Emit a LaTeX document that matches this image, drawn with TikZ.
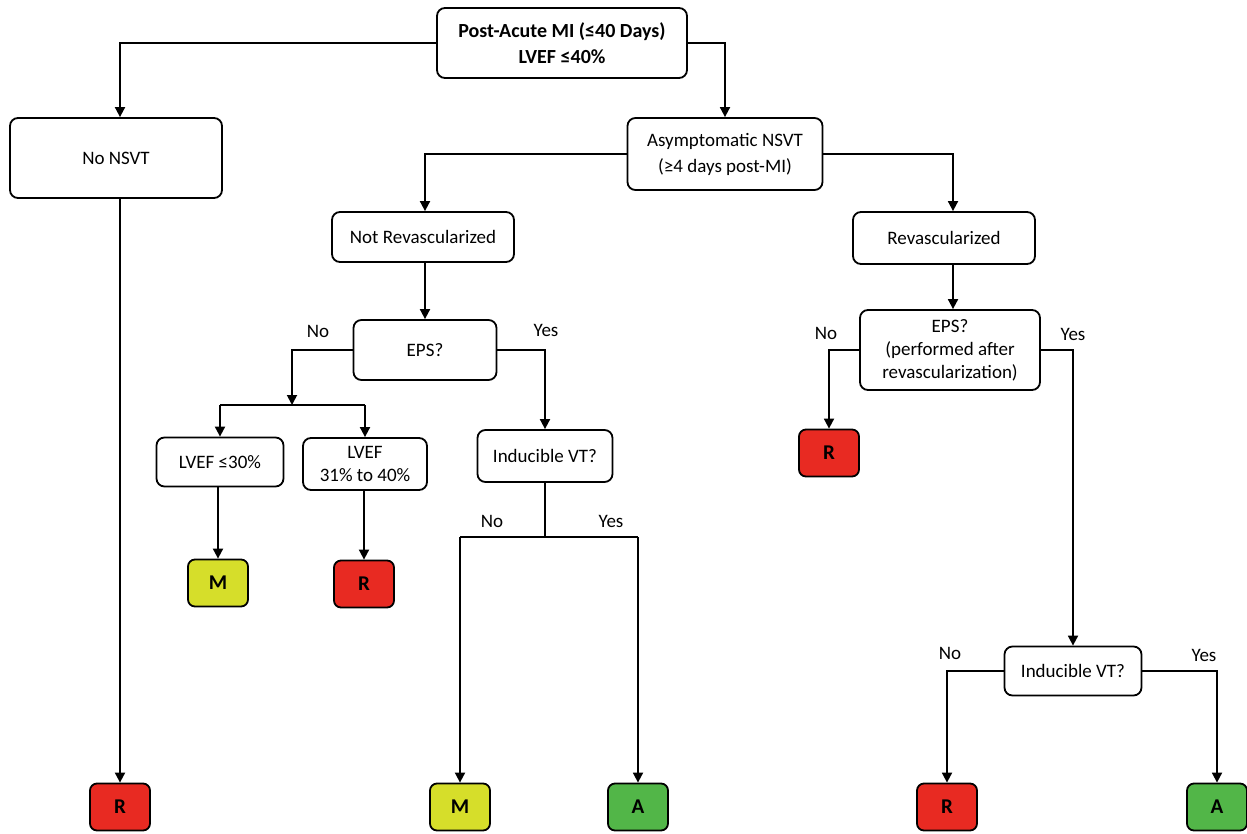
\documentclass[tikz,border=0pt]{standalone}
\usepackage{fontspec}
\setmainfont{Carlito}
\usetikzlibrary{arrows.meta}
\definecolor{cR}{RGB}{232,42,34}
\definecolor{cM}{RGB}{214,222,42}
\definecolor{cA}{RGB}{82,182,72}
\tikzset{
  box/.style={draw, line width=1.8pt, rounded corners=8pt, align=center, font=\fontsize{19}{23}\selectfont, inner sep=2pt, fill=white},
  res/.style={draw, line width=1.8pt, rounded corners=7pt, minimum width=60pt, minimum height=47pt, font=\fontsize{21}{24}\selectfont\bfseries},
  conn/.style={line width=1.8pt, -{Triangle[length=10pt,width=10pt]}},
  plain/.style={line width=1.8pt},
  lab/.style={font=\fontsize{19}{22}\selectfont}
}
\begin{document}
\begin{tikzpicture}[x=1pt,y=-1pt]
\useasboundingbox (0,0) rectangle (1247,833);
% nodes
\node[box, minimum width=250pt, minimum height=70pt, font=\fontsize{20}{26}\selectfont\bfseries] (top) at (562,43) {Post-Acute MI (≤40 Days)\\LVEF ≤40\%};
\node[box, minimum width=212pt, minimum height=80pt] (nonsvt) at (116,158) {No NSVT};
\node[box, minimum width=195pt, minimum height=72pt, font=\fontsize{19}{26}\selectfont] (asym) at (725,154) {Asymptomatic NSVT\\(≥4 days post-MI)};
\node[box, minimum width=182pt, minimum height=50pt] (notrev) at (423,237) {Not Revascularized};
\node[box, minimum width=182pt, minimum height=52pt] (rev) at (944,238) {Revascularized};
\node[box, minimum width=143pt, minimum height=60pt] (epsl) at (425,350) {EPS?};
\node[box, minimum width=180pt, minimum height=80pt, font=\fontsize{19}{23}\selectfont] (epsr) at (950,350) {EPS?\\(performed after\\revascularization)};
\node[box, minimum width=127pt, minimum height=49pt] (lv30) at (220,462) {LVEF ≤30\%};
\node[box, minimum width=124pt, minimum height=52pt, font=\fontsize{19}{23}\selectfont] (lv31) at (365,464) {LVEF\\31\% to 40\%};
\node[box, minimum width=135pt, minimum height=52pt] (ivtl) at (545,456) {Inducible VT?};
\node[box, minimum width=137pt, minimum height=49pt] (ivtr) at (1073,671) {Inducible VT?};
\node[res, fill=cR] (rmid) at (829,453) {R};
\node[res, fill=cM] (m1) at (218,583) {M};
\node[res, fill=cR] (r1) at (364,584) {R};
\node[res, fill=cR] (rb1) at (120,807) {R};
\node[res, fill=cM] (mb) at (460,807) {M};
\node[res, fill=cA] (ab1) at (638,807) {A};
\node[res, fill=cR] (rb2) at (947,807) {R};
\node[res, fill=cA] (ab2) at (1217,807) {A};
% helper coordinates
\coordinate (split) at (292,405);
\coordinate (splitL) at (220,405);
\coordinate (splitR) at (365,405);
\coordinate (ivsplit) at (545,537);
\coordinate (ivL) at (460,537);
\coordinate (ivR) at (638,537);
% connectors
\draw[conn] (top.west) -| (nonsvt.north -| rb1);
\draw[conn] (top.east) -| (asym.north);
\draw[conn] (nonsvt.south -| rb1) -- (rb1.north);
\draw[conn] (asym.west) -| (notrev.north -| epsl);
\draw[conn] (asym.east) -| (rev.north -| 953,0);
\draw[conn] (notrev.south -| epsl) -- (epsl.north);
\draw[conn] (epsl.west) -| (split);
\draw[plain] (splitL) -- (splitR);
\draw[conn] (splitL) -- (lv30.north);
\draw[conn] (splitR) -- (lv31.north);
\draw[conn] (epsl.east) -| (ivtl.north);
\draw[conn] (lv30.south -| m1) -- (m1.north);
\draw[conn] (lv31.south -| r1) -- (r1.north);
\draw[plain] (ivtl.south) -- (ivsplit);
\draw[plain] (ivL) -- (ivR);
\draw[conn] (ivL) -- (mb.north);
\draw[conn] (ivR) -- (ab1.north);
\draw[conn] (rev.south -| 953,0) -- (epsr.north -| 953,0);
\draw[conn] (epsr.west) -| (rmid.north);
\draw[conn] (epsr.east) -| (ivtr.north);
\draw[conn] (ivtr.west) -| (rb2.north);
\draw[conn] (ivtr.east) -| (ab2.north);
% labels
\node[lab] (l1) at (318,331) {No};
\node[lab] (l2) at (546,330) {Yes};
\node[lab] (l3) at (492,521) {No};
\node[lab] (l4) at (611,521) {Yes};
\node[lab] (l5) at (826,333) {No};
\node[lab] (l6) at (1073,334) {Yes};
\node[lab] (l7) at (950,653) {No};
\node[lab] (l8) at (1204,655) {Yes};
\end{tikzpicture}
\end{document}
